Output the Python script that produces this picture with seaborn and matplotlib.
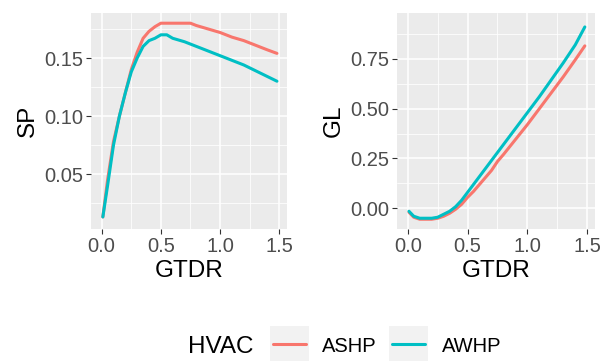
import numpy as np
import pandas as pd
import matplotlib
matplotlib.use("Agg")
import matplotlib.pyplot as plt
from matplotlib.lines import Line2D
from matplotlib.patches import Rectangle
from matplotlib.ticker import MultipleLocator
import seaborn as sns

gtdr = [0.01, 0.05, 0.1, 0.15, 0.2, 0.25, 0.3, 0.35, 0.4, 0.45, 0.5, 0.55, 0.6,
        0.7, 0.75, 0.8, 0.9, 1.0, 1.1, 1.2, 1.3, 1.4, 1.48]
sp_ashp = [0.013, 0.045, 0.078, 0.100, 0.120, 0.140, 0.155, 0.167, 0.173, 0.177, 0.180, 0.180, 0.180,
           0.180, 0.180, 0.178, 0.175, 0.172, 0.168, 0.165, 0.161, 0.157, 0.154]
sp_awhp = [0.013, 0.040, 0.075, 0.100, 0.120, 0.138, 0.150, 0.160, 0.165, 0.167, 0.170, 0.170, 0.167,
           0.164, 0.162, 0.160, 0.156, 0.152, 0.148, 0.144, 0.139, 0.134, 0.130]
gl_ashp = [-0.020, -0.045, -0.055, -0.055, -0.055, -0.050, -0.040, -0.025, -0.005, 0.020, 0.055, 0.085, 0.120,
           0.190, 0.235, 0.270, 0.345, 0.420, 0.500, 0.580, 0.660, 0.745, 0.815]
gl_awhp = [-0.015, -0.040, -0.050, -0.050, -0.050, -0.045, -0.030, -0.015, 0.008, 0.040, 0.080, 0.120, 0.160,
           0.240, 0.280, 0.320, 0.400, 0.480, 0.560, 0.645, 0.730, 0.820, 0.910]
hvac = ["ASHP", "AWHP"]
colors = {"ASHP": "#F8766D", "AWHP": "#00BFC4"}

df = pd.DataFrame({
    "GTDR": gtdr * 2,
    "SP": sp_ashp + sp_awhp,
    "GL": gl_ashp + gl_awhp,
    "HVAC": [hvac[0]] * len(gtdr) + [hvac[1]] * len(gtdr),
})

sns.set_theme(style="darkgrid")
plt.rcParams["font.family"] = ["Liberation Sans", "DejaVu Sans"]

W, H = 603, 361
fig = plt.figure(figsize=(W / 100, H / 100), dpi=100)

def rect(l, t, r, b):
    return [l / W, 1 - b / H, (r - l) / W, (b - t) / H]

ax1 = fig.add_axes(rect(91, 13, 287, 229))
ax2 = fig.add_axes(rect(397, 13, 595, 229))

for ax, col, ylim, ymaj in [
    (ax1, "SP", (0.0026, 0.1888), 0.05),
    (ax2, "GL", (-0.104, 0.980), 0.25),
]:
    sns.lineplot(data=df, x="GTDR", y=col, hue="HVAC", palette=colors, ax=ax,
                 linewidth=2.2, legend=False)
    ax.set_facecolor("#EBEBEB")
    ax.set_xlim(-0.09, 1.565)
    ax.set_ylim(*ylim)
    ax.xaxis.set_major_locator(MultipleLocator(0.5))
    ax.xaxis.set_minor_locator(MultipleLocator(0.25))
    ax.yaxis.set_major_locator(MultipleLocator(ymaj))
    ax.yaxis.set_minor_locator(MultipleLocator(ymaj / 2))
    ax.grid(which="major", color="white", linewidth=1.1)
    ax.grid(which="minor", color="white", linewidth=0.55)
    ax.set_axisbelow(True)
    for s in ax.spines.values():
        s.set_visible(False)
    ax.tick_params(which="major", length=3.5, width=0.8, color="#333333",
                   labelsize=14.5, labelcolor="#4D4D4D", pad=2, bottom=True, left=True)
    ax.tick_params(which="minor", length=0, bottom=False, left=False)
    ax.set_xlabel("GTDR", fontsize=17.5, color="black", labelpad=3)
    ax.set_ylabel(col, fontsize=17.5, color="black", labelpad=4)

ax1.set_yticks([0.05, 0.10, 0.15])
ax1.set_yticklabels(["0.05", "0.10", "0.15"])
ax2.set_yticks([0.0, 0.25, 0.5, 0.75])
ax2.set_yticklabels(["0.00", "0.25", "0.50", "0.75"])
ax1.set_xticks([0.0, 0.5, 1.0, 1.5])
ax1.set_xticklabels(["0.0", "0.5", "1.0", "1.5"])
ax2.set_xticks([0.0, 0.5, 1.0, 1.5])
ax2.set_xticklabels(["0.0", "0.5", "1.0", "1.5"])

# legend
ty = 1 - 347 / H
fig.text(188 / W, ty, "HVAC", fontsize=17.5, ha="left", va="center", color="black")
for name, x0, lx in [("ASHP", 270, 322), ("AWHP", 389, 442)]:
    fig.patches.append(Rectangle((x0 / W, 1 - 363 / H), 39 / W, 37 / H,
                                 transform=fig.transFigure, facecolor="#F2F2F2",
                                 edgecolor="none", zorder=1))
    fig.lines.append(Line2D([(x0 + 3) / W, (x0 + 36) / W], [1 - 344 / H] * 2,
                            transform=fig.transFigure, color=colors[name],
                            linewidth=2.2, zorder=2))
    fig.text(lx / W, ty, name, fontsize=14.5, ha="left", va="center", color="black")

fig.savefig("out.png", dpi=100, facecolor="white")
